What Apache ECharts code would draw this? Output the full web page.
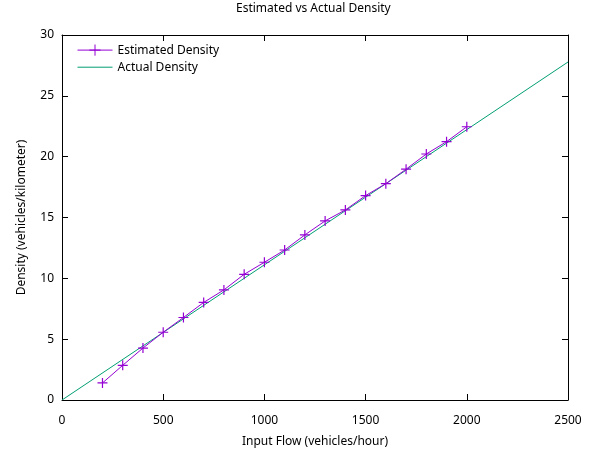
<!DOCTYPE html>
<html>
<head>
<meta charset="utf-8">
<script src="https://cdn.jsdelivr.net/npm/echarts@6/dist/echarts.min.js"></script>
<style>html,body{margin:0;padding:0;background:#fff}#c{width:591px;height:454px}</style>
</head>
<body>
<div id="c"></div>
<script>
const estFlow = [200, 300, 400, 500, 600, 700, 800, 900, 1000, 1100, 1200, 1300, 1400, 1500, 1600, 1700, 1800, 1900, 2000];
const estDensity = [1.4, 2.85, 4.27, 5.57, 6.78, 8.02, 9.05, 10.33, 11.32, 12.33, 13.57, 14.72, 15.62, 16.8, 17.78, 18.97, 20.22, 21.23, 22.46];
const actualFlow = [0, 2500];
const actualDensity = [0, 27.78];
const xTicks = [0, 500, 1000, 1500, 2000, 2500];
const yTicks = [0, 5, 10, 15, 20, 25, 30];

const FONT = "'Noto Sans', sans-serif";
const PLUS = 'path://M0,5L10,5M5,0L5,10';
const DASH = 'path://M0,5L10,5M0,4.99L0,5.01';
const PURPLE = '#9400d3';
const GREEN = '#009e73';

const chart = echarts.init(document.getElementById('c'), null, {renderer: 'canvas'});
const tickStyle = {show: true, inside: true, length: 6, lineStyle: {color: '#000', width: 1}};
const lineStyleAxis = {show: true, onZero: false, lineStyle: {color: '#000', width: 1}};
const plain = v => String(v);
chart.setOption({
  animation: false,
  backgroundColor: '#fff',
  textStyle: {fontFamily: FONT},
  title: {
    text: 'Estimated vs Actual Density',
    left: 236, top: 3, padding: 0,
    textStyle: {fontFamily: FONT, fontSize: 12, fontWeight: 'normal', color: '#000'}
  },
  legend: {
    orient: 'vertical', left: 77, top: 42, padding: 0,
    itemWidth: 35, itemHeight: 14, itemGap: 3,
    lineStyle: {width: 1},
    textStyle: {fontFamily: FONT, fontSize: 12, color: '#000'},
    data: [
      {name: 'Estimated Density', itemStyle: {borderWidth: 1}},
      {name: 'Actual Density', itemStyle: {opacity: 0, borderWidth: 0}}
    ]
  },
  grid: {left: 62, right: 23, top: 35, bottom: 54, containLabel: false},
  xAxis: [{
    type: 'value', min: 0, max: 2500, interval: 500,
    name: 'Input Flow (vehicles/hour)', nameLocation: 'middle', nameGap: 36,
    nameTextStyle: {fontFamily: FONT, fontSize: 12, color: '#000'},
    axisLine: lineStyleAxis, axisTick: tickStyle, splitLine: {show: false},
    axisLabel: {fontFamily: FONT, fontSize: 12, color: '#000', margin: 15, formatter: plain}
  }, {
    type: 'value', min: 0, max: 2500, interval: 500, position: 'top',
    axisLine: lineStyleAxis, axisTick: tickStyle, splitLine: {show: false},
    axisLabel: {show: false}
  }],
  yAxis: [{
    type: 'value', min: 0, max: 30, interval: 5,
    name: 'Density (vehicles/kilometer)', nameLocation: 'middle', nameGap: 34,
    nameTextStyle: {fontFamily: FONT, fontSize: 12, color: '#000'},
    axisLine: lineStyleAxis, axisTick: tickStyle, splitLine: {show: false},
    axisLabel: {fontFamily: FONT, fontSize: 12, color: '#000', margin: 8, formatter: plain}
  }, {
    type: 'value', min: 0, max: 30, interval: 5, position: 'right',
    axisLine: lineStyleAxis, axisTick: tickStyle, splitLine: {show: false},
    axisLabel: {show: false}
  }],
  series: [{
    name: 'Estimated Density', type: 'line',
    color: PURPLE,
    data: estFlow.map((f, i) => [f, estDensity[i]]),
    symbol: PLUS, symbolSize: 10, showSymbol: true,
    itemStyle: {color: 'none', borderColor: PURPLE, borderWidth: 1.2},
    lineStyle: {color: PURPLE, width: 1},
    emphasis: {disabled: true},
    z: 3
  }, {
    name: 'Actual Density', type: 'line',
    color: GREEN,
    data: actualFlow.map((f, i) => [f, actualDensity[i]]),
    symbol: DASH, showSymbol: false,
    itemStyle: {color: 'none', borderColor: GREEN, borderWidth: 1},
    lineStyle: {color: GREEN, width: 1},
    emphasis: {disabled: true},
    z: 2
  }]
});
</script>
</body>
</html>
